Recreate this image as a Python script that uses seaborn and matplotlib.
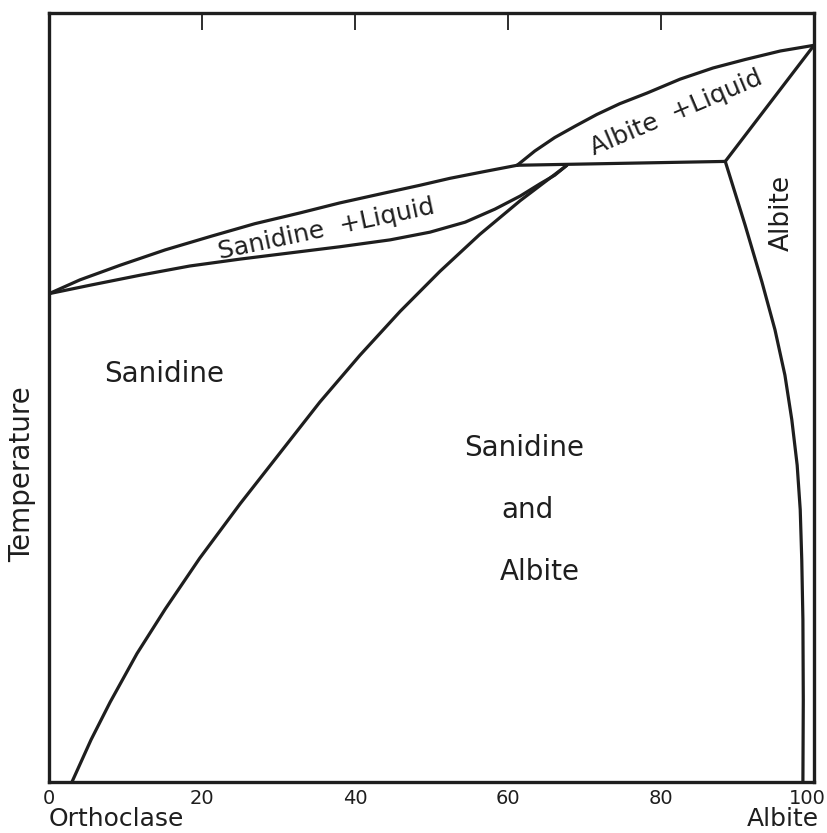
import matplotlib
matplotlib.use("Agg")
import matplotlib.pyplot as plt
import matplotlib.transforms as mtransforms
import seaborn as sns
import pandas as pd

sns.set_style("white")
plt.rcParams['font.family'] = ['DejaVu Sans']

# Composition (wt% Albite) and relative temperature (0-100, arbitrary)
sanidine_liquidus_x = [0, 4.05, 9.3, 15.2, 21.3, 26.9, 32.8, 38.0, 43.9, 48.5, 52.4, 57.0, 61.2]
sanidine_liquidus_y = [63.5, 65.3, 67.2, 69.2, 71.0, 72.6, 74.0, 75.3, 76.6, 77.6, 78.5, 79.4, 80.2]

sanidine_solidus_x = [0, 5.36, 11.9, 18.4, 25.0, 31.5, 38.0, 44.6, 49.8, 54.4, 58.3, 61.6,
                      64.2, 66.1, 67.7]
sanidine_solidus_y = [63.5, 64.6, 65.9, 67.1, 68.0, 68.8, 69.6, 70.5, 71.5, 72.8, 74.5, 76.2,
                      77.8, 78.9, 80.2]

sanidine_solvus_x = [3.0, 5.5, 8.0, 11.5, 15.2, 19.7, 25.0, 30.2, 35.4, 40.65, 45.9, 51.1,
                     56.3, 61.6, 67.7]
sanidine_solvus_y = [0, 5.5, 10.4, 16.7, 22.5, 29.1, 36.2, 42.8, 49.4, 55.5, 61.2, 66.4,
                     71.2, 75.6, 80.2]

albite_liquidus_x = [61.2, 63.5, 66.1, 68.8, 71.6, 74.6, 78.2, 82.5, 86.8, 91.0, 95.6, 100]
albite_liquidus_y = [80.2, 82.05, 83.8, 85.3, 86.8, 88.2, 89.6, 91.4, 92.85, 93.95, 95.06, 95.8]

peritectic_x = [61.2, 88.4]
peritectic_y = [80.2, 80.7]

albite_solidus_x = [88.4, 100]
albite_solidus_y = [80.7, 95.8]

albite_solvus_x = [88.4, 91.0, 93.2, 94.9, 96.2, 97.1, 97.8, 98.2, 98.4, 98.55, 98.6, 98.55]
albite_solvus_y = [80.7, 72.4, 65.0, 58.8, 52.9, 47.1, 41.2, 35.4, 28.9, 21.1, 10.7, 0]

x_ticks = [0, 20, 40, 60, 80, 100]
x_tick_labels = ["0", "20", "40", "60", "80", "100"]

curves = [
    (sanidine_liquidus_x, sanidine_liquidus_y),
    (sanidine_solidus_x, sanidine_solidus_y),
    (sanidine_solvus_x, sanidine_solvus_y),
    (albite_liquidus_x, albite_liquidus_y),
    (peritectic_x, peritectic_y),
    (albite_solidus_x, albite_solidus_y),
    (albite_solvus_x, albite_solvus_y),
]

fig = plt.figure(figsize=(8.27, 8.33), dpi=100)
ax = fig.add_axes([49/827, 51/833, (814-49)/827, (782-13)/833])

for cx, cy in curves:
    df = pd.DataFrame({"x": cx, "y": cy})
    sns.lineplot(data=df, x="x", y="y", sort=False, ax=ax, color="#1e1e1e",
                 linewidth=2.3, estimator=None)
for ln in ax.get_lines():
    ln.set_solid_joinstyle("round")
    ln.set_solid_capstyle("round")

ax.set_xlim(0, 100)
ax.set_ylim(0, 100)
ax.set_xticks(x_ticks)
ax.set_xticklabels(x_tick_labels)
ax.set_yticks([])
ax.set_xlabel("")
ax.set_ylabel("")
ax.tick_params(axis="x", direction="in", length=12, width=1.3, top=True,
               labeltop=False, labelsize=14, pad=5, colors="#1e1e1e")
for s in ax.spines.values():
    s.set_visible(True)
    s.set_linewidth(2.4)
    s.set_color("#1e1e1e")

# shift the "100" label so it stays inside the figure
last = ax.get_xticklabels()[-1]
last.set_horizontalalignment("right")
last.set_transform(last.get_transform() + mtransforms.ScaledTranslation(12/100, 0, fig.dpi_scale_trans))

tc = "#1e1e1e"
ax.text(15.0, 53.1, "Sanidine", fontsize=20, ha="center", va="center", color=tc)
ax.text(62.1, 43.4, "Sanidine", fontsize=20, ha="center", va="center", color=tc)
ax.text(62.6, 35.4, "and", fontsize=20, ha="center", va="center", color=tc)
ax.text(64.2, 27.3, "Albite", fontsize=20, ha="center", va="center", color=tc)
ax.text(36.2, 71.9, "Sanidine  +Liquid", fontsize=18, ha="center", va="center",
        rotation=12, color=tc)
ax.text(82.0, 87.0, "Albite  +Liquid", fontsize=18, ha="center", va="center",
        rotation=23, color=tc)
ax.text(95.8, 74.0, "Albite", fontsize=19, ha="center", va="center",
        rotation=90, color=tc)

fig.text(22/827, 1 - 474/833, "Temperature", fontsize=20, rotation=90,
         ha="center", va="center", color=tc)
fig.text(49/827, 1 - 826/833, "Orthoclase", fontsize=18, ha="left",
         va="baseline", color=tc)
fig.text(819/827, 1 - 826/833, "Albite", fontsize=18, ha="right",
         va="baseline", color=tc)

fig.savefig("out.png", dpi=100)
